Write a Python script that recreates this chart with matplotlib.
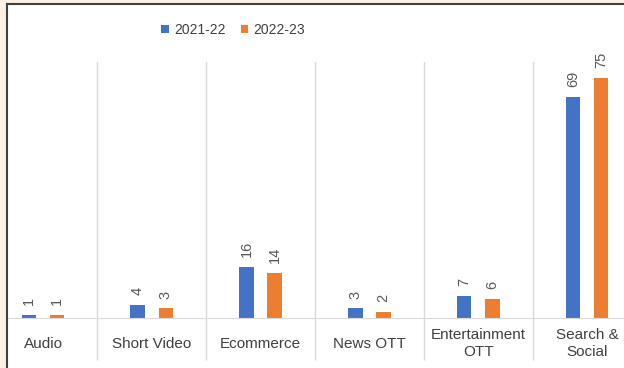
import matplotlib.pyplot as plt
from matplotlib.patches import Rectangle
import numpy as np

# App usage share by category
categories = ['Audio', 'Short Video', 'Ecommerce', 'News OTT', 'Entertainment\nOTT', 'Search &\nSocial']
series_names = ['2021-22', '2022-23']
values_2122 = [1, 4, 16, 3, 7, 69]
values_2223 = [1, 3, 14, 2, 6, 75]
colors = ['#4472C4', '#ED7D31']

plt.rcParams['font.family'] = ['Liberation Sans', 'DejaVu Sans']

W, H = 624, 368
fig = plt.figure(figsize=(W / 100, H / 100), dpi=100)
fig.patch.set_facecolor('white')

# plot area in pixel coords (left, top, right, bottom)
cat_w = 108.8
x0 = 43 - cat_w / 2
x1 = x0 + cat_w * len(categories)
top, bottom = 62, 318
ax = fig.add_axes([x0 / W, 1 - bottom / H, (x1 - x0) / W, (bottom - top) / H])
ax.set_facecolor('none')

x = np.arange(len(categories))
bw = 0.135
off = 0.13
b1 = ax.bar(x - off, values_2122, bw, color=colors[0], label=series_names[0])
b2 = ax.bar(x + off, values_2223, bw, color=colors[1], label=series_names[1])

for bars in (b1, b2):
    for rect in bars:
        v = rect.get_height()
        ax.annotate(str(v), (rect.get_x() + rect.get_width() / 2, v),
                    xytext=(0, 7), textcoords='offset points',
                    ha='center', va='bottom', rotation=90,
                    fontsize=10.5, color='#595959')

ax.set_xlim(-0.5, len(categories) - 0.5)
ax.set_ylim(0, 80)
ax.set_yticks([])
for s in ['left', 'right', 'top']:
    ax.spines[s].set_visible(False)
ax.spines['bottom'].set_color('#D9D9D9')

ax.set_xticks(x)
ax.set_xticklabels(categories, fontsize=11, color='#404040', linespacing=1.25, va='center')
ax.tick_params(axis='x', which='major', length=0, pad=18.5)
ax.set_xticks(np.arange(len(categories) + 1) - 0.5, minor=True)
ax.tick_params(axis='x', which='minor', length=30, width=1, color='#D9D9D9')
ax.grid(which='minor', axis='x', color='#D9D9D9', linewidth=1)

ax.legend(loc='center', bbox_to_anchor=(233 / W, 1 - 30 / H), bbox_transform=fig.transFigure,
          ncol=2, frameon=False, fontsize=10, handlelength=0.55, handleheight=0.55,
          handletextpad=0.35, columnspacing=1.1, labelcolor='#404040')

# outer margin and panel border
peach = '#FDF1E6'
fig.patches.append(Rectangle((0, 1 - 4 / H), 1, 4 / H, transform=fig.transFigure,
                             facecolor=peach, edgecolor='none', zorder=5))
fig.patches.append(Rectangle((0, 0), 6 / W, 1, transform=fig.transFigure,
                             facecolor=peach, edgecolor='none', zorder=5))
fig.add_artist(plt.Line2D([6.5 / W, 6.5 / W], [0, 1 - 3.5 / H], transform=fig.transFigure,
                          color='#404040', linewidth=1.5, zorder=6))
fig.add_artist(plt.Line2D([6.5 / W, 1], [1 - 4 / H, 1 - 4 / H], transform=fig.transFigure,
                          color='#404040', linewidth=1.5, zorder=6))

fig.savefig('out.png', dpi=100)
